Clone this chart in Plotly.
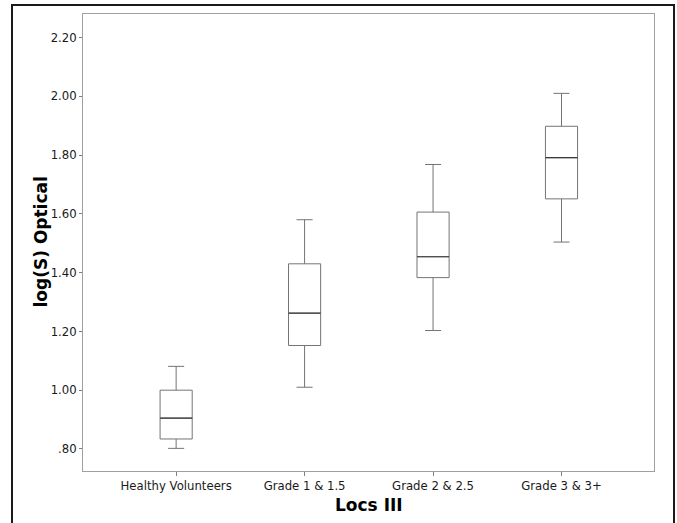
import plotly.graph_objects as go

categories = ["Healthy Volunteers", "Grade 1 & 1.5", "Grade 2 & 2.5", "Grade 3 & 3+"]
lower_whisker = [0.802, 1.010, 1.203, 1.504]
q1_values = [0.834, 1.152, 1.383, 1.651]
median_values = [0.905, 1.262, 1.454, 1.791]
q3_values = [1.000, 1.430, 1.606, 1.898]
upper_whisker = [1.081, 1.580, 1.768, 2.010]

ytick_vals = [0.80, 1.00, 1.20, 1.40, 1.60, 1.80, 2.00, 2.20]
ytick_text = [".80", "1.00", "1.20", "1.40", "1.60", "1.80", "2.00", "2.20"]

FONT = "DejaVu Sans"

fig = go.Figure()
fig.add_trace(go.Box(
    x=categories,
    q1=q1_values,
    median=median_values,
    q3=q3_values,
    lowerfence=lower_whisker,
    upperfence=upper_whisker,
    boxpoints=False,
    width=0.25,
    whiskerwidth=0.5,
    fillcolor="white",
    line=dict(color="#747474", width=1),
    showlegend=False,
    hoverinfo="skip",
))
# darker median line drawn over each box
fig.add_trace(go.Box(
    x=categories,
    q1=median_values,
    median=median_values,
    q3=median_values,
    lowerfence=median_values,
    upperfence=median_values,
    boxpoints=False,
    width=0.25,
    whiskerwidth=0,
    fillcolor="rgba(0,0,0,0)",
    line=dict(color="#3a3a3a", width=1.2),
    showlegend=False,
    hoverinfo="skip",
))

W, H = 677, 523
L, R, T, B = 83, 23, 14, 52
pw, ph = W - L - R, H - T - B

def px_x(p):
    return (p - L) / pw

def px_y(p):
    return (H - B - p) / ph

fig.update_layout(
    width=W, height=H,
    margin=dict(l=L, r=R, t=T, b=B),
    paper_bgcolor="white",
    plot_bgcolor="white",
    boxmode="overlay",
    font=dict(family=FONT, color="#1a1a1a", size=12),
    xaxis=dict(
        type="category",
        range=[-0.725, 3.72],
        showgrid=False, zeroline=False,
        showline=True, linecolor="#a0a0a0", linewidth=1, mirror=True,
        ticks="outside", ticklen=4, tickcolor="#808080", tickwidth=1,
        tickfont=dict(family=FONT, size=11.7, color="#1a1a1a"),
    ),
    yaxis=dict(
        range=[0.725, 2.28],
        tickvals=ytick_vals, ticktext=ytick_text,
        showgrid=False, zeroline=False,
        showline=True, linecolor="#a0a0a0", linewidth=1, mirror=True,
        ticks="outside", ticklen=3, tickcolor="#808080", tickwidth=1,
        tickfont=dict(family=FONT, size=11.7, color="#1a1a1a"),
    ),
    shapes=[dict(
        type="rect", xref="paper", yref="paper",
        x0=px_x(12), x1=px_x(674), y0=px_y(560), y1=px_y(5),
        line=dict(color="#1a1a1a", width=2), fillcolor="rgba(0,0,0,0)",
        layer="above",
    )],
    annotations=[
        dict(text="<b>Locs III</b>", xref="paper", yref="paper",
             x=0.5, y=px_y(505), xanchor="center", yanchor="middle",
             showarrow=False, font=dict(family=FONT, size=17, color="black")),
        dict(text="<b>log(S) Optical</b>", xref="paper", yref="paper",
             x=px_x(40), y=0.5, xanchor="center", yanchor="middle",
             textangle=-90,
             showarrow=False, font=dict(family=FONT, size=17, color="black")),
    ],
)

fig.write_html(
    "out.html",
    config={"displayModeBar": False},
    post_script="document.body.style.margin='0';document.body.style.padding='0';",
)
